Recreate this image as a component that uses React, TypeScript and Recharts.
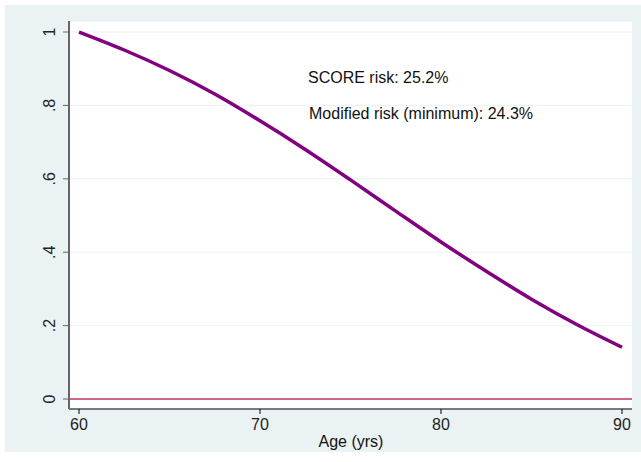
import React from "react";
import {
  LineChart,
  Line,
  XAxis,
  YAxis,
  CartesianGrid,
  ReferenceLine,
} from "recharts";

// survival-type curve
const ages = [60, 62.5, 65, 67.5, 70, 72.5, 75, 77.5, 80, 82.5, 85, 87.5, 90];
const risk = [1.0, 0.951, 0.895, 0.831, 0.758, 0.68, 0.597, 0.512, 0.428, 0.348, 0.272, 0.203, 0.141];

const xTicks = [60, 70, 80, 90];
const yTicks = [0, 0.2, 0.4, 0.6, 0.8, 1];
const yTickLabels = ["0", ".2", ".4", ".6", ".8", "1"];
const baselineValue = 0;

const notes = ["SCORE risk: 25.2%", "Modified risk (minimum): 24.3%"];
const xTitle = "Age (yrs)";

const data = ages.map((age, i) => ({ age, risk: risk[i] }));

const font = "'Liberation Sans', Arial, sans-serif";

function YTick(props: any) {
  const { x, y, payload } = props;
  const idx = yTicks.indexOf(payload.value);
  return (
    <text
      x={x}
      y={y}
      transform={`rotate(-90 ${x} ${y})`}
      textAnchor="middle"
      fontSize={16}
      fontFamily={font}
      fill="#222"
    >
      {idx >= 0 ? yTickLabels[idx] : payload.value}
    </text>
  );
}

export default function App() {
  return (
    <div style={{ position: "absolute", left: 0, top: 0, width: 641, height: 462, background: "#fff" }}>
      <div style={{ position: "absolute", left: 5, top: 5, width: 636, height: 447, background: "#EAF2F3" }}>
        <LineChart
          width={636}
          height={447}
          data={data}
          margin={{ top: 16, right: 9, left: 0, bottom: 0 }}
          style={{ fontFamily: font }}
        >
          <CartesianGrid vertical={false} fill="#ffffff" stroke="#EAF2F3" strokeWidth={1} />
          <XAxis
            dataKey="age"
            type="number"
            domain={[59.448, 90.552]}
            ticks={xTicks}
            allowDataOverflow
            height={43}
            axisLine={{ stroke: "#000", strokeWidth: 1.2 }}
            tickLine={{ stroke: "#000" }}
            tickSize={5}
            tickMargin={5}
            tick={{ fill: "#222", fontSize: 16, fontFamily: font }}
          />
          <YAxis
            type="number"
            domain={[-0.0272, 1.03]}
            ticks={yTicks}
            allowDataOverflow
            width={64}
            axisLine={{ stroke: "#666", strokeWidth: 2 }}
            tickLine={{ stroke: "#666" }}
            tickSize={6}
            tickMargin={8}
            tick={<YTick />}
          />
          <ReferenceLine y={baselineValue} stroke="#C2385A" strokeWidth={1.5} />
          <Line
            type="monotone"
            dataKey="risk"
            stroke="#800080"
            strokeWidth={3.5}
            dot={false}
            isAnimationActive={false}
          />
          <text x={303} y={78} fontSize={16} fontFamily={font} fill="#111">
            {notes[0]}
          </text>
          <text x={304} y={114} fontSize={16} fontFamily={font} fill="#111">
            {notes[1]}
          </text>
          <text x={346} y={442} textAnchor="middle" fontSize={16} fontFamily={font} fill="#111">
            {xTitle}
          </text>
        </LineChart>
      </div>
    </div>
  );
}
